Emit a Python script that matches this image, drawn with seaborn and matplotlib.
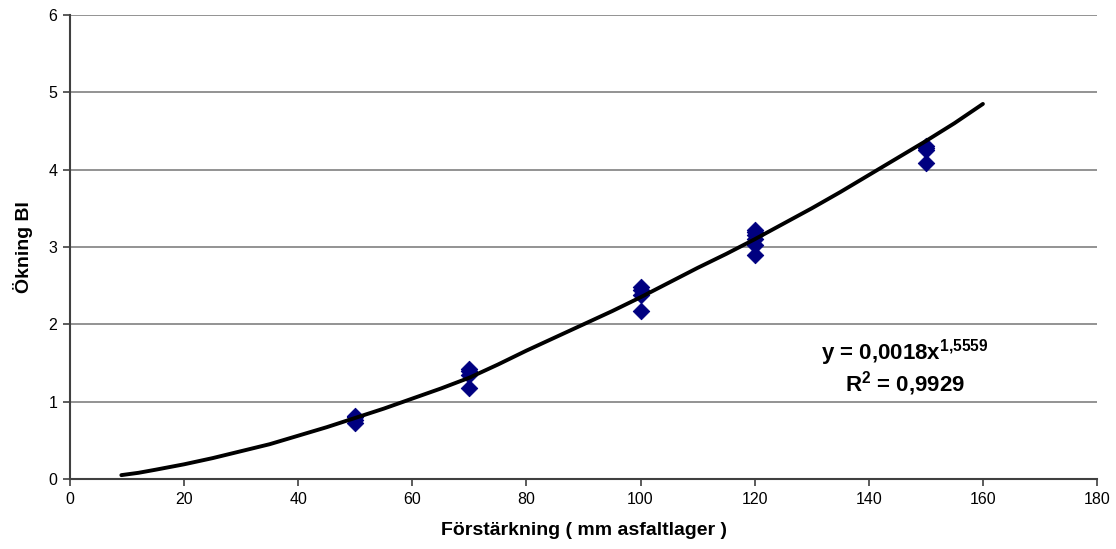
import matplotlib
matplotlib.use('Agg')
from matplotlib import pyplot as plt
import pandas as pd
import seaborn as sns

# mätpunkter
x_obs = [50, 50, 50, 50, 70, 70, 70, 70, 100, 100, 100, 100,
         120, 120, 120, 120, 120, 120, 150, 150, 150, 150]
y_obs = [0.72, 0.76, 0.80, 0.82, 1.18, 1.35, 1.40, 1.42, 2.17, 2.38, 2.45, 2.48,
         2.90, 3.03, 3.10, 3.15, 3.20, 3.22, 4.08, 4.25, 4.28, 4.30]

# trendlinje (avläst)
x_fit = [9, 12, 15, 20, 25, 30, 35, 40, 45, 50, 55, 60, 65, 70, 75, 80, 85, 90, 95,
         100, 105, 110, 115, 120, 125, 130, 135, 140, 145, 150, 155, 160]
y_fit = [0.05, 0.08, 0.12, 0.19, 0.27, 0.36, 0.45, 0.56, 0.67, 0.79, 0.91, 1.04,
         1.17, 1.31, 1.48, 1.66, 1.83, 2.00, 2.17, 2.35, 2.54, 2.73, 2.91, 3.10,
         3.30, 3.50, 3.71, 3.93, 4.15, 4.37, 4.60, 4.85]

df = pd.DataFrame({'x': x_obs, 'y': y_obs})
fit = pd.DataFrame({'x': x_fit, 'y': y_fit})

sns.set_style('white')
plt.rcParams['font.family'] = ['Liberation Sans', 'DejaVu Sans']
plt.rcParams['mathtext.fontset'] = 'custom'
plt.rcParams['mathtext.rm'] = 'Liberation Sans'
plt.rcParams['mathtext.bf'] = 'Liberation Sans:bold'
plt.rcParams['text.color'] = 'black'
plt.rcParams['axes.labelcolor'] = 'black'

fig = plt.figure(figsize=(11.16, 5.49), dpi=100)
ax = fig.add_axes([0.0627, 0.1275, 0.9203, 0.8452])

for yv in range(1, 7):
    ax.axhline(yv, color='#808080', lw=1.2, zorder=0)

sns.scatterplot(data=df, x='x', y='y', marker='D', color='#000080', s=70,
                edgecolor='#000080', ax=ax, zorder=3)
sns.lineplot(data=fit, x='x', y='y', color='black', lw=2.8, ax=ax, zorder=4)

ax.set_xlim(0, 180)
ax.set_ylim(0, 6)
ax.set_xticks(range(0, 181, 20))
ax.set_yticks(range(0, 7))
ax.tick_params(axis='both', direction='out', length=5, width=1.2,
               color='#404040', labelcolor='black', labelsize=11.5,
               left=True, bottom=True, pad=4)
for s in ['top', 'right']:
    ax.spines[s].set_visible(False)
for s in ['left', 'bottom']:
    ax.spines[s].set_color('#404040')
    ax.spines[s].set_linewidth(1.5)

ax.set_xlabel('Förstärkning ( mm asfaltlager )', fontsize=14, fontweight='bold', labelpad=11)
ax.set_ylabel('Ökning BI', fontsize=14, fontweight='bold', labelpad=11)

ax.text(146.3, 1.63, r'y = 0,0018x$^{\mathbf{1{,}5559}}$', fontsize=16, fontweight='bold',
        ha='center', va='center')
ax.text(146.3, 1.24, r'R$^{\mathbf{2}}$ = 0,9929', fontsize=16, fontweight='bold',
        ha='center', va='center')

fig.savefig('out.png', dpi=100)
